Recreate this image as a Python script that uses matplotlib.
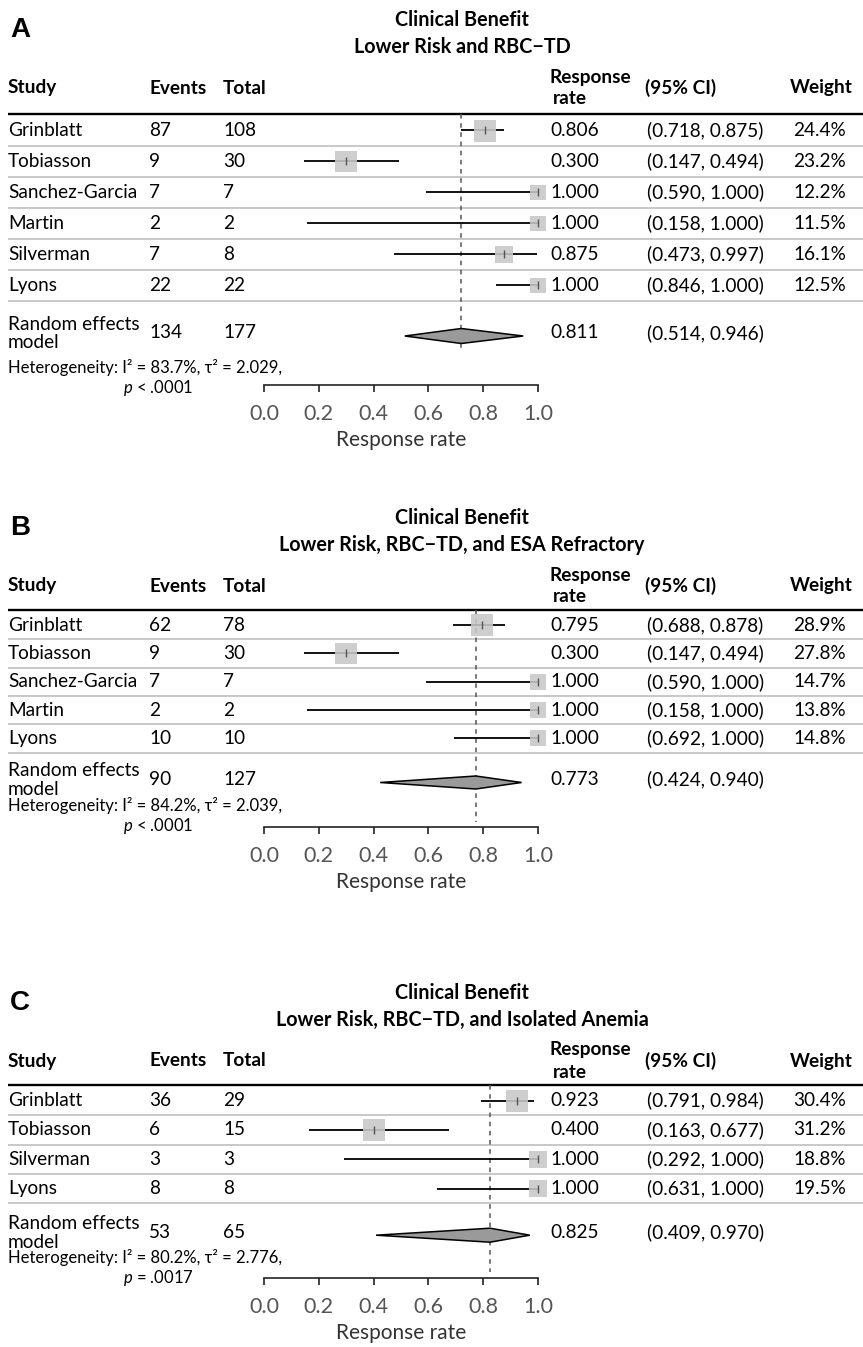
import numpy as np
import matplotlib
matplotlib.use("Agg")
import matplotlib.pyplot as plt
from matplotlib.patches import Polygon

plt.rcParams['font.family'] = ['Lato', 'DejaVu Sans']
plt.rcParams['mathtext.fontset'] = 'custom'
plt.rcParams['mathtext.rm'] = 'Lato'
plt.rcParams['mathtext.it'] = 'Lato:italic'

# ---- data -------------------------------------------------------------
studies_a = ['Grinblatt', 'Tobiasson', 'Sanchez-Garcia', 'Martin', 'Silverman', 'Lyons']
events_a = [87, 9, 7, 2, 7, 22]
total_a = [108, 30, 7, 2, 8, 22]
rate_a = [0.806, 0.300, 1.000, 1.000, 0.875, 1.000]
lo_a = [0.718, 0.147, 0.590, 0.158, 0.473, 0.846]
hi_a = [0.875, 0.494, 1.000, 1.000, 0.997, 1.000]
weight_a = [24.4, 23.2, 12.2, 11.5, 16.1, 12.5]
pooled_a = dict(events=134, total=177, rate=0.811, lo=0.514, hi=0.946, mark=0.72,
                i2='83.7%', tau2='2.029', p='< .0001')

studies_b = ['Grinblatt', 'Tobiasson', 'Sanchez-Garcia', 'Martin', 'Lyons']
events_b = [62, 9, 7, 2, 10]
total_b = [78, 30, 7, 2, 10]
rate_b = [0.795, 0.300, 1.000, 1.000, 1.000]
lo_b = [0.688, 0.147, 0.590, 0.158, 0.692]
hi_b = [0.878, 0.494, 1.000, 1.000, 1.000]
weight_b = [28.9, 27.8, 14.7, 13.8, 14.8]
pooled_b = dict(events=90, total=127, rate=0.773, lo=0.424, hi=0.940, mark=0.773,
                i2='84.2%', tau2='2.039', p='< .0001')

studies_c = ['Grinblatt', 'Tobiasson', 'Silverman', 'Lyons']
events_c = [36, 6, 3, 8]
total_c = [29, 15, 3, 8]
rate_c = [0.923, 0.400, 1.000, 1.000]
lo_c = [0.791, 0.163, 0.292, 0.631]
hi_c = [0.984, 0.677, 1.000, 1.000]
weight_c = [30.4, 31.2, 18.8, 19.5]
pooled_c = dict(events=53, total=65, rate=0.825, lo=0.409, hi=0.970, mark=0.825,
                i2='80.2%', tau2='2.776', p='= .0017')

letters = ['A', 'B', 'C']
subtitles = ['Lower Risk and RBC\u2212TD',
             'Lower Risk, RBC\u2212TD, and ESA Refractory',
             'Lower Risk, RBC\u2212TD, and Isolated Anemia']
ticks = [0.0, 0.2, 0.4, 0.6, 0.8, 1.0]

# ---- layout (pixels from top) -----------------------------------------
W, H = 863, 1347
thick_y = [114, 610, 1085]
row_step = [31, 28.3, 29.3]
pooled_gap = [32, 27, 29]
het_gap = [34, 26, 25]
axis_y = [385, 827, 1278]
dash_end = [350, 822, 1272]
diam_h = [7.5, 6.5, 7]
hdr_gap = [26, 24, 24]

x_study, x_events, x_total = 8, 149, 223
x_rate, x_ci, x_weight = 550, 647, 793
x0_forest, x1_forest = 264, 538

FS = 13.7
fig = plt.figure(figsize=(W / 100, H / 100), dpi=100)
tab = fig.add_axes([0, 0, 1, 1])
tab.set_xlim(0, W)
tab.set_ylim(H, 0)
tab.axis('off')

panels = [
    (studies_a, events_a, total_a, rate_a, lo_a, hi_a, weight_a, pooled_a),
    (studies_b, events_b, total_b, rate_b, lo_b, hi_b, weight_b, pooled_b),
    (studies_c, events_c, total_c, rate_c, lo_c, hi_c, weight_c, pooled_c),
]

for k, (stud, ev, tot, rate, lo, hi, wt, pool) in enumerate(panels):
    ty = thick_y[k]
    step = row_step[k]
    n = len(stud)
    rows = ty + step / 2 + 1 + step * np.arange(n)
    seps = rows + step / 2
    py = seps[-1] + pooled_gap[k]
    hy = py + het_gap[k]
    hdr = ty - hdr_gap[k]

    # titles
    tab.text(462, hdr - 68, 'Clinical Benefit', ha='center', va='center',
             fontsize=14.2, fontweight='bold')
    tab.text(462, hdr - 41, subtitles[k], ha='center', va='center',
             fontsize=14.2, fontweight='bold')
    tab.text(10, hdr - 58, letters[k], ha='left', va='center', fontsize=20,
             fontweight='bold', family='Liberation Sans')

    # header
    for x, s in [(x_study, 'Study'), (x_events, 'Events'), (x_total, 'Total'),
                 (x_ci - 2, '(95% CI)'), (x_weight - 3, 'Weight')]:
        tab.text(x, hdr, s, ha='left', va='center', fontsize=FS, fontweight='bold')
    tab.text(x_rate - 1, hdr - 11, 'Response', ha='left', va='center', fontsize=FS,
             fontweight='bold')
    tab.text(x_rate + 3, hdr + 11, 'rate', ha='left', va='center', fontsize=FS,
             fontweight='bold')
    tab.plot([8, W], [ty, ty], color='black', lw=1.7, solid_capstyle='butt')

    # study rows
    for i in range(n):
        y = rows[i]
        tab.text(x_study, y, stud[i], va='center', fontsize=FS)
        tab.text(x_events, y, str(ev[i]), va='center', fontsize=FS)
        tab.text(x_total, y, str(tot[i]), va='center', fontsize=FS)
        tab.text(x_rate, y, f'{rate[i]:.3f}', va='center', fontsize=FS)
        tab.text(x_ci, y, f'({lo[i]:.3f}, {hi[i]:.3f})', va='center', fontsize=FS)
        tab.text(x_weight, y, f'{wt[i]:.1f}%', va='center', fontsize=FS)
        tab.plot([8, W], [seps[i], seps[i]], color='#c4c4c4', lw=1.3,
                 solid_capstyle='butt')

    # pooled row
    tab.text(x_study, py - 9, 'Random effects', va='center', fontsize=FS)
    tab.text(x_study, py + 10, 'model', va='center', fontsize=FS)
    tab.text(x_events, py, str(pool['events']), va='center', fontsize=FS)
    tab.text(x_total, py, str(pool['total']), va='center', fontsize=FS)
    tab.text(x_rate, py, f"{pool['rate']:.3f}", va='center', fontsize=FS)
    tab.text(x_ci, py, f"({pool['lo']:.3f}, {pool['hi']:.3f})", va='center', fontsize=FS)
    tab.text(x_study, hy, f"Heterogeneity: I\u00b2 = {pool['i2']}, \u03c4\u00b2 = {pool['tau2']},",
             va='center', fontsize=12)
    tab.text(123, hy + 21, f"$p$ {pool['p']}", va='center', fontsize=12)

    # forest axes, y in the same pixel units as the table
    ay = axis_y[k]
    fax = fig.add_axes([x0_forest / W, 1 - ay / H, (x1_forest - x0_forest) / W,
                        (ay - ty) / H])
    fax.set_xlim(0, 1)
    fax.set_ylim(ay, ty)
    fax.patch.set_alpha(0)
    for s in ['top', 'left', 'right']:
        fax.spines[s].set_visible(False)
    fax.spines['bottom'].set_linewidth(1.2)
    fax.spines['bottom'].set_color('#222222')
    fax.set_yticks([])
    fax.set_xticks(ticks)
    fax.set_xticklabels([f'{t:.1f}' for t in ticks])
    fax.tick_params(axis='x', length=5, width=1.2, color='#222222', pad=9,
                    labelsize=15.5, labelcolor='#555555')
    fax.set_xlabel('Response rate', fontsize=15, color='#333333', labelpad=4)

    wmax = max(wt)
    side = 22 * np.sqrt(np.array(wt) / wmax) * 0.72
    fax.hlines(rows, lo, hi, color='black', lw=1.3, zorder=2)
    fax.scatter(rate, rows, marker='s', s=side ** 2, color='#c8c8c8', alpha=0.88,
                edgecolors='none', zorder=3, clip_on=False)
    fax.scatter(rate, rows, marker='|', s=40, color='#555555', linewidths=1,
                zorder=4, clip_on=False)

    m = pool['mark']
    dy = py + 3
    dh = diam_h[k]
    fax.vlines(m, ty, dash_end[k], color='#555555', lw=1.1, linestyles=(0, (3, 3)),
               zorder=1)
    fax.add_patch(Polygon([[pool['lo'], dy], [m, dy - dh], [pool['hi'], dy],
                           [m, dy + dh]], closed=True, facecolor='#9a9a9a',
                          edgecolor='black', lw=1.1, zorder=3))

fig.savefig('out.png', dpi=100)
